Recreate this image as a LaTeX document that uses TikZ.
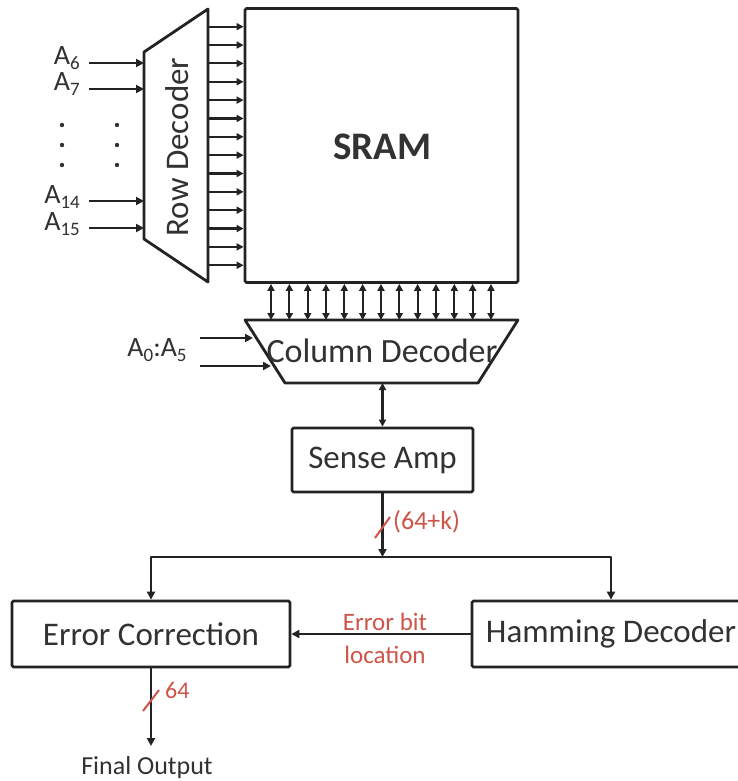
\documentclass[tikz,border=0pt]{standalone}
\usepackage{fontspec}
\setmainfont{Carlito}
\usetikzlibrary{arrows.meta,calc}
\definecolor{ink}{RGB}{35,35,35}
\definecolor{txt}{RGB}{50,50,50}
\definecolor{redlab}{RGB}{206,84,72}
\begin{document}
\begin{tikzpicture}[x=1pt,y=-1pt,
  line/.style={draw=ink,line width=2.8pt,line join=round},
  arr/.style={line,-{Triangle[length=8pt,width=8pt]}},
  thinarr/.style={draw=ink,line width=2.2pt,-{Triangle[length=7pt,width=7pt]}},
  dblarr/.style={draw=ink,line width=2.2pt,{Triangle[length=7pt,width=7pt]}-{Triangle[length=7pt,width=7pt]}},
  box/.style={draw=ink,line width=2.8pt,rounded corners=1.5pt,inner sep=0pt,text=txt,font=\fontsize{33}{36}\selectfont},
  lbl/.style={text=txt,inner sep=0pt,font=\fontsize{33}{36}\selectfont},
  alab/.style={text=txt,inner sep=0pt,font=\fontsize{28}{30}\selectfont},
  redtxt/.style={text=redlab,inner sep=0pt,font=\fontsize{26}{33}\selectfont,align=center},
  slash/.style={draw=redlab,line width=2pt}
]
\clip (0,0) rectangle (738,781);
\fill[white] (0,0) rectangle (738,781);

% SRAM
\node[box,minimum width=273pt,minimum height=274pt] (sram) at (381.5,145.5) {};
\node[text=txt,font=\fontsize{39}{42}\selectfont\bfseries] (sramlbl) at (382.5,147) {SRAM};

% Row decoder
\draw[line] (144,52) coordinate (rdtl) -- (208,9) coordinate (rdtr) -- (208,282) coordinate (rdbr) -- (144,239) coordinate (rdbl) -- cycle;
\node[lbl,rotate=90] (rdlbl) at (177,147) {Row Decoder};
\foreach \i in {0,...,13}{
  \coordinate (r\i) at (208,{26.7+18.35*\i});
  \draw[thinarr] (r\i) -- (r\i -| sram.west);
}

% Row inputs
\foreach \n/\y/\t in {a6/63/6,a7/89/7,a14/201/14,a15/228/15}{
  \coordinate (s\n) at (89,\y);
  \coordinate (e\n) at (144,\y);
  \draw[arr] (s\n) -- (e\n);
  \node[alab,anchor=base east] (l\n) at (80,{\y+2}) {A\raisebox{-5pt}{\fontsize{19}{20}\selectfont\t}};
}
\foreach \x in {62,117}{
  \foreach \y in {125,145,165}{
    \fill[txt] (\x,\y) circle (2.2pt);
  }
}

% Column decoder
\draw[line] (245,320) coordinate (cdtl) -- (518,320) coordinate (cdtr) -- (478,383) coordinate (cdbr) -- (285,383) coordinate (cdbl) -- cycle;
\node[lbl,font=\fontsize{34}{36}\selectfont] (cdlbl) at (382,351) {Column Decoder};
\foreach \i in {0,...,12}{
  \coordinate (c\i) at ({271+18.33*\i},320);
  \draw[dblarr] (c\i |- sram.south) -- (c\i);
}
\node[alab] (a05) at (157,350) {A\raisebox{-5pt}{\fontsize{19}{20}\selectfont 0}:A\raisebox{-5pt}{\fontsize{19}{20}\selectfont 5}};
\coordinate (ca1) at (200,338);
\coordinate (ca1e) at (253,338);
\coordinate (ca2) at (200,366);
\coordinate (ca2e) at (271,366);
\draw[arr] (ca1) -- (ca1e);
\draw[arr] (ca2) -- (ca2e);

% Sense amp
\node[box,minimum width=181pt,minimum height=64pt] (sense) at (382.5,460) {Sense Amp};
\coordinate (cdout) at (382.5,383);
\draw[dblarr,line width=2.6pt] (cdout) -- (sense.north);

% Split
\coordinate (split) at (382.5,557);
\draw[arr] (sense.south) -- (split);
\draw[slash] (375,538) -- (390,517);
\node[redtxt,anchor=west] (w1) at (393,522) {(64+k)};

% Lower boxes
\node[box,minimum width=278pt,minimum height=66pt] (ec) at (151,634) {Error Correction};
\node[box,minimum width=278pt,minimum height=66pt] (hd) at (611,634) {Hamming Decoder};
\draw[arr] (split) -| (ec.north);
\draw[arr] (split) -| (hd.north);
\draw[arr] (hd.west) -- (ec.east);
\node[redtxt,font=\fontsize{25}{33}\selectfont] (ebl) at (385,638) {Error bit\\location};

% Output
\coordinate (outtip) at (151,746);
\draw[arr] (ec.south) -- (outtip);
\draw[slash] (143,711) -- (159,690);
\node[redtxt,font=\fontsize{24}{28}\selectfont,anchor=west] (w2) at (165,690) {64};
\node[text=txt,inner sep=0pt,font=\fontsize{26}{30}\selectfont] (out) at (147,768) {Final Output};
\end{tikzpicture}
\end{document}
